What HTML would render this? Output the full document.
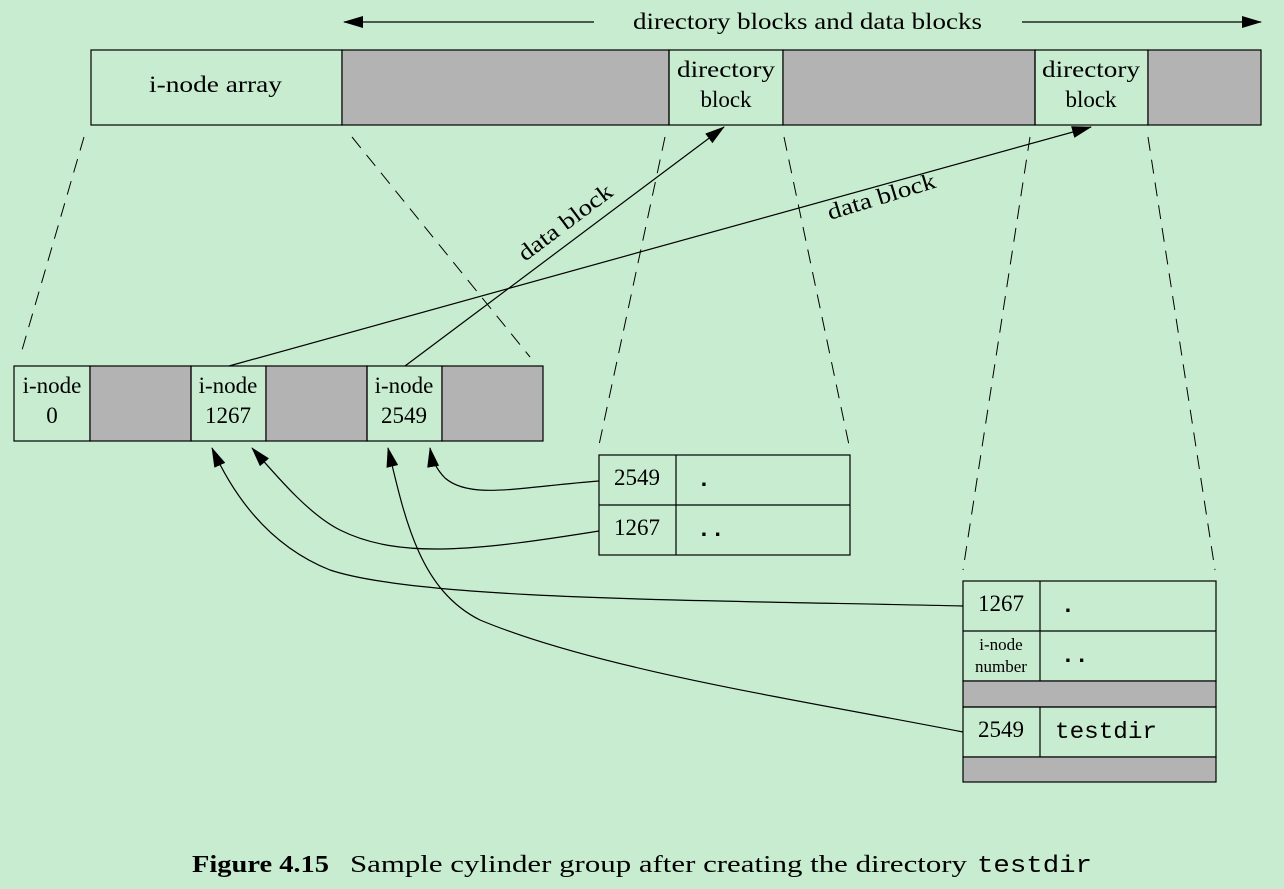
<!DOCTYPE html>
<html><head><meta charset="utf-8"><style>
html,body{margin:0;padding:0;background:#c8ecd0;}
svg{display:block;}
text{font-family:"Liberation Serif",serif;font-size:23px;fill:#000;}
.m{font-family:"Liberation Mono",monospace;}
</style></head><body>
<svg width="1284" height="889" viewBox="0 0 1284 889" xmlns="http://www.w3.org/2000/svg">
<defs>
<marker id="ah2" markerWidth="20" markerHeight="12" refX="19" refY="6" orient="auto" markerUnits="userSpaceOnUse">
<path d="M0,0 L20,6 L0,12 z" fill="#000"/></marker>
</defs>
<g stroke="#000" stroke-width="1.2">
<line x1="594" y1="22" x2="344" y2="22" marker-end="url(#ah2)"/>
<line x1="1022" y1="22" x2="1261" y2="22" marker-end="url(#ah2)"/>
<rect x="91" y="50" width="251" height="75" fill="none"/>
<rect x="342" y="50" width="327" height="75" fill="#b3b3b3"/>
<rect x="669" y="50" width="114" height="75" fill="none"/>
<rect x="783" y="50" width="252" height="75" fill="#b3b3b3"/>
<rect x="1035" y="50" width="113" height="75" fill="none"/>
<rect x="1148" y="50" width="113" height="75" fill="#b3b3b3"/>
<rect x="14" y="366" width="76" height="75" fill="none"/>
<rect x="90" y="366" width="101" height="75" fill="#b3b3b3"/>
<rect x="191" y="366" width="75" height="75" fill="none"/>
<rect x="266" y="366" width="101" height="75" fill="#b3b3b3"/>
<rect x="367" y="366" width="75" height="75" fill="none"/>
<rect x="442" y="366" width="101" height="75" fill="#b3b3b3"/>
<g stroke-dasharray="14,9" stroke-width="1">
<line x1="84" y1="137" x2="20" y2="357"/>
<line x1="352" y1="137" x2="530" y2="357"/>
<line x1="665" y1="137" x2="599" y2="445"/>
<line x1="784" y1="137" x2="849" y2="445"/>
<line x1="1030" y1="137" x2="963" y2="570"/>
<line x1="1148" y1="137" x2="1215" y2="570"/>
</g>
<rect x="599" y="455" width="251" height="100" fill="none"/>
<line x1="599" y1="505" x2="850" y2="505"/>
<line x1="676" y1="455" x2="676" y2="555"/>
<rect x="963" y="581" width="253" height="100" fill="none"/>
<line x1="963" y1="631" x2="1216" y2="631"/>
<line x1="1040" y1="581" x2="1040" y2="681"/>
<rect x="963" y="681" width="253" height="26" fill="#b3b3b3"/>
<rect x="963" y="707" width="253" height="50" fill="none"/>
<line x1="1040" y1="707" x2="1040" y2="757"/>
<rect x="963" y="757" width="253" height="25" fill="#b3b3b3"/>
<line x1="405" y1="366" x2="724" y2="127" marker-end="url(#ah2)"/>
<line x1="229" y1="366" x2="1091" y2="127" marker-end="url(#ah2)"/>
<g fill="none">
<path d="M599,481 C520,487 470,500 445,478 C437,470 432,460 430,448" marker-end="url(#ah2)"/>
<path d="M599,531 C480,550 400,560 340,530 C310,515 280,480 252,448" marker-end="url(#ah2)"/>
<path d="M963,606 C700,600 420,600 330,570 C280,550 240,510 212,448" marker-end="url(#ah2)"/>
<path d="M963,732 C800,700 600,670 480,620 C420,590 405,520 388,448" marker-end="url(#ah2)"/>
</g>
</g>
<text x="633" y="29" textLength="349" lengthAdjust="spacingAndGlyphs">directory blocks and data blocks</text>
<text x="149" y="92" textLength="133" lengthAdjust="spacingAndGlyphs">i-node array</text>
<text x="677" y="77" textLength="98" lengthAdjust="spacingAndGlyphs">directory</text>
<text x="726" y="107" text-anchor="middle">block</text>
<text x="1042" y="77" textLength="98" lengthAdjust="spacingAndGlyphs">directory</text>
<text x="1091" y="107" text-anchor="middle">block</text>
<text x="52" y="393" text-anchor="middle">i-node</text>
<text x="52" y="423" text-anchor="middle">0</text>
<text x="228" y="393" text-anchor="middle">i-node</text>
<text x="228" y="423" text-anchor="middle">1267</text>
<text x="404" y="393" text-anchor="middle">i-node</text>
<text x="404" y="423" text-anchor="middle">2549</text>
<text x="0" y="0" transform="translate(525,262) rotate(-37)" textLength="112" lengthAdjust="spacingAndGlyphs">data block</text>
<text x="0" y="0" transform="translate(830,220) rotate(-17)" textLength="112" lengthAdjust="spacingAndGlyphs">data block</text>
<text x="637" y="485" text-anchor="middle">2549</text>
<text x="637" y="535" text-anchor="middle">1267</text>
<text x="697" y="486" class="m" font-weight="bold">.</text>
<text x="697" y="536" class="m" font-weight="bold">..</text>
<text x="1001" y="611" text-anchor="middle">1267</text>
<text x="1061" y="612" class="m" font-weight="bold">.</text>
<text x="1001" y="650" text-anchor="middle" style="font-size:17px">i-node</text>
<text x="1001" y="672" text-anchor="middle" style="font-size:17px">number</text>
<text x="1061" y="662" class="m" font-weight="bold">..</text>
<text x="1001" y="737" text-anchor="middle">2549</text>
<text x="1055" y="738" class="m" textLength="102" lengthAdjust="spacingAndGlyphs">testdir</text>
<text x="192" y="872" style="font-size:24px" font-weight="bold" textLength="137" lengthAdjust="spacingAndGlyphs">Figure 4.15</text>
<text x="350" y="872" style="font-size:24px" textLength="617" lengthAdjust="spacingAndGlyphs">Sample cylinder group after creating the directory</text>
<text x="977" y="872" class="m" style="font-size:24px" textLength="115" lengthAdjust="spacingAndGlyphs">testdir</text>
</svg>
</body></html>
